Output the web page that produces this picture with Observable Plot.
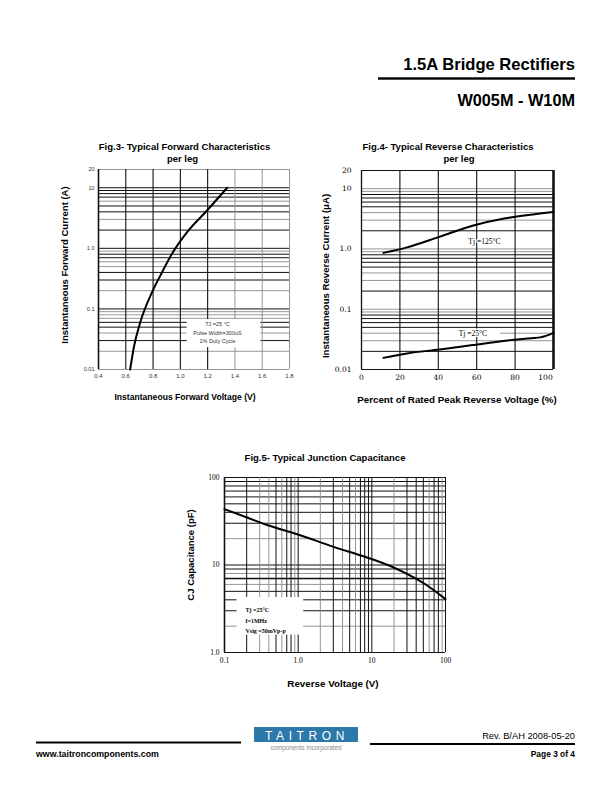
<!DOCTYPE html>
<html><head><meta charset="utf-8">
<script src="https://cdn.jsdelivr.net/npm/d3@7"></script>
<script src="https://cdn.jsdelivr.net/npm/@observablehq/plot@0.6"></script>
<style>
html,body{margin:0;padding:0;background:#fff;}
#page{position:relative;width:612px;height:792px;overflow:hidden;font-family:"Liberation Sans",Arial,sans-serif;}
#page svg{position:absolute;}
</style></head><body><div id="page"></div>
<script>
// ---------- Fig.3 data: forward voltage (V) vs forward current (A)
const fig3Voltage = [0.632, 0.661, 0.705, 0.795, 0.856, 0.941, 1.051, 1.197, 1.343];
const fig3Current = [0.01, 0.0244, 0.059, 0.194, 0.365, 0.83, 1.87, 4.25, 10];
const fig3XTicks = [0.4, 0.6, 0.8, 1.0, 1.2, 1.4, 1.6, 1.8];
const fig3XLabels = ["0.4", "0.6", "0.8", "1.0", "1.2", "1.4", "1.6", "1.8"];
const fig3YTicks = [20, 10, 1, 0.1, 0.01];
const fig3YLabels = ["20", "10", "1.0", "0.1", "0.01"];
const fig3GridXDark = [0.6, 0.8, 1.0, 1.2];
const fig3GridXLight = [1.4, 1.6, 1.8];
const fig3GridYDark = [10, 9, 8, 7, 5, 4, 2, 1, 0.8, 0.7, 0.4, 0.3, 0.1, 0.06, 0.05, 0.03];
const fig3GridYLight = [20, 6, 3, 0.9, 0.6, 0.5, 0.2, 0.09, 0.08, 0.07, 0.04, 0.02, 0.01];
const fig3Notes = ["TJ =25 °C", "Pulse Width=300uS", "1% Duty Cycle"];
const fig3NoteY = [0.0553, 0.0404, 0.0288];

// ---------- Fig.4 data: percent of rated peak reverse voltage vs reverse current (uA)
const fig4Percent125 = [11.4, 23.7, 40.8, 57.8, 75, 88, 100];
const fig4Current125 = [0.86, 1.06, 1.6, 2.42, 3.22, 3.7, 4.1];
const fig4Percent25 = [11.4, 23.7, 40.8, 57.8, 75, 88.6, 93.2, 100];
const fig4Current25 = [0.0156, 0.0185, 0.0215, 0.0254, 0.030, 0.033, 0.0341, 0.0405];
const fig4XTicks = [0, 20, 40, 60, 80];
const fig4XLabels = ["0", "20", "40", "60", "80"];
const fig4XLastTick = [100];
const fig4XLastLabel = ["100"];
const fig4YTicks = [20, 10, 1, 0.1, 0.01];
const fig4YLabels = ["20", "10", "1.0", "0.1", "0.01"];
const fig4GridX = [20, 40, 60, 80];
const fig4GridYDark = [20, 8, 7, 6, 5, 2, 0.8, 0.7, 0.6, 0.5, 0.2, 0.08, 0.07, 0.06, 0.05, 0.02, 0.01];
const fig4GridYLight = [10, 9, 4, 3, 1, 0.9, 0.4, 0.3, 0.1, 0.09, 0.04, 0.03];
const fig4Labels = ["Tj =125°C", "Tj =25°C"];
const fig4LabelX = [64, 58];
const fig4LabelY = [1.34, 0.0398];

// ---------- Fig.5 data: reverse voltage (V) vs junction capacitance (pF)
const fig5Voltage = [0.1, 0.203, 0.38, 0.97, 3.04, 8.6, 19.8, 37, 62.4, 100];
const fig5Capacitance = [43.5, 34.9, 28.6, 22.5, 16.1, 12.2, 9.36, 7.2, 5.5, 4.07];
const fig5XTicks = [0.1, 1, 10, 100];
const fig5XLabels = ["0.1", "1.0", "10", "100"];
const fig5YTicks = [100, 10, 1];
const fig5YLabels = ["100", "10", "1.0"];
const fig5GridXDark = [0.2, 0.5, 0.7, 0.8, 1, 3, 5, 7, 8, 9, 10, 30, 40, 50, 70, 80, 100];
const fig5GridXLight = [0.3, 0.4, 0.6, 0.9, 2, 4, 6, 20, 60, 90];
const fig5GridYDark = [100, 90, 80, 70, 60, 50, 40, 30, 10, 9, 7, 5, 4, 3, 1];
const fig5GridYLight = [20, 8, 6, 2];
const fig5Notes = ["Tj =25°C", "f=1MHz", "Vsig =50mVp-p"];
const fig5NoteY = [3.08, 2.30, 1.77];

const DARK = "#111", LIGHT = "#8a8a8a";
const page = document.getElementById("page");
function place(svg, left, top) {
  svg.style.left = left + "px"; svg.style.top = top + "px";
  svg.style.background = "transparent"; svg.style.overflow = "visible";
  page.appendChild(svg);
}
// tick labels drawn as text marks positioned by the scales
function xLabels(ticks, labels, o) {
  return Plot.text(ticks, {x: d => d, text: (d, i) => labels[i], frameAnchor: "bottom", lineAnchor: "top", dy: o.pad, dx: o.dx || 0, fontSize: o.size, fill: o.fill, fontFamily: o.family});
}
function yLabels(ticks, labels, o) {
  return Plot.text(ticks, {y: d => d, text: (d, i) => labels[i], frameAnchor: "left", textAnchor: "end", dx: -o.pad, fontSize: o.size, fill: o.fill, fontFamily: o.family});
}

// ---------- Fig.3
const f3t = {size: 6, fill: "#333", family: "Liberation Sans"};
const fig3 = Plot.plot({
  width: 240, height: 231, marginLeft: 38, marginRight: 11, marginTop: 9, marginBottom: 22,
  x: {type: "linear", domain: [0.4, 1.8], axis: null},
  y: {type: "log", domain: [0.01, 20], axis: null},
  marks: [
    Plot.ruleY(fig3GridYLight, {stroke: LIGHT, strokeWidth: 0.9}),
    Plot.ruleY(fig3GridYDark, {stroke: DARK, strokeWidth: 1}),
    Plot.ruleX(fig3GridXLight, {stroke: LIGHT, strokeWidth: 0.9}),
    Plot.ruleX(fig3GridXDark, {stroke: DARK, strokeWidth: 1.1}),
    Plot.ruleX([0.4], {stroke: DARK, strokeWidth: 1.6}),
    Plot.rect([0], {x1: 1.05, x2: 1.59, y1: 0.023, y2: 0.067, fill: "white"}),
    Plot.text(fig3Notes, {x: 1.272, y: fig3NoteY, text: d => d, fontSize: 5.5, fill: "#333", fontFamily: "Liberation Sans"}),
    Plot.line(fig3Voltage, {x: fig3Voltage, y: fig3Current, curve: "monotone-x", stroke: "#000", strokeWidth: 2}),
    xLabels(fig3XTicks, fig3XLabels, {...f3t, pad: 4}),
    yLabels(fig3YTicks, fig3YLabels, {...f3t, size: 5.5, pad: 4})
  ]
});
place(fig3, 60, 160);

// ---------- Fig.4
const f4t = {size: 7.5, fill: "#000", family: "DejaVu Serif"};
const fig4 = Plot.plot({
  width: 235, height: 230, marginLeft: 31, marginRight: 12, marginTop: 10, marginBottom: 21,
  x: {type: "linear", domain: [0, 100], axis: null},
  y: {type: "log", domain: [0.01, 20], axis: null},
  marks: [
    Plot.ruleY(fig4GridYLight, {stroke: LIGHT, strokeWidth: 0.9}),
    Plot.ruleY(fig4GridYDark, {stroke: DARK, strokeWidth: 1}),
    Plot.ruleX(fig4GridX, {stroke: DARK, strokeWidth: 1.1}),
    Plot.ruleX([0], {stroke: DARK, strokeWidth: 1.3}),
    Plot.ruleX([100], {stroke: DARK, strokeWidth: 2.6}),
    Plot.rect([0], {x1: 41, x2: 72.5, y1: 0.034, y2: 0.047, fill: "white"}),
    Plot.line(fig4Percent125, {x: fig4Percent125, y: fig4Current125, curve: "monotone-x", stroke: "#000", strokeWidth: 2}),
    Plot.line(fig4Percent25, {x: fig4Percent25, y: fig4Current25, curve: "monotone-x", stroke: "#000", strokeWidth: 2}),
    Plot.text(fig4Labels, {x: fig4LabelX, y: fig4LabelY, text: d => d, fontSize: 7.5, fill: "#000", fontFamily: "Liberation Serif", stroke: "white", strokeWidth: 2, paintOrder: "stroke"}),
    xLabels(fig4XTicks, fig4XLabels, {...f4t, pad: 5}),
    xLabels(fig4XLastTick, fig4XLastLabel, {...f4t, pad: 5, dx: -8}),
    yLabels(fig4YTicks, fig4YLabels, {...f4t, pad: 10})
  ]
});
place(fig4, 330, 160);

// ---------- Fig.5
const f5t = {size: 7.5, fill: "#000", family: "Liberation Serif"};
const fig5 = Plot.plot({
  width: 265, height: 205, marginLeft: 34, marginRight: 10, marginTop: 12, marginBottom: 18,
  x: {type: "log", domain: [0.1, 100], axis: null},
  y: {type: "log", domain: [1, 100], axis: null},
  marks: [
    Plot.ruleY(fig5GridYLight, {stroke: LIGHT, strokeWidth: 0.9}),
    Plot.ruleY(fig5GridYDark, {stroke: DARK, strokeWidth: 1}),
    Plot.ruleX(fig5GridXLight, {stroke: LIGHT, strokeWidth: 0.9}),
    Plot.ruleX(fig5GridXDark, {stroke: DARK, strokeWidth: 1}),
    Plot.ruleX([0.1], {stroke: DARK, strokeWidth: 1.6}),
    Plot.ruleY([7], {stroke: DARK, strokeWidth: 1.6}),
    Plot.rect([0], {x1: 0.148, x2: 1.19, y1: 1.58, y2: 4.25, fill: "white"}),
    Plot.text(fig5Notes, {x: 0.193, y: fig5NoteY, text: d => d, fontSize: 6, fill: "#000", fontFamily: "Liberation Serif", fontWeight: "bold", textAnchor: "start"}),
    Plot.line(fig5Voltage, {x: fig5Voltage, y: fig5Capacitance, curve: "monotone-x", stroke: "#000", strokeWidth: 2}),
    xLabels(fig5XTicks, fig5XLabels, {...f5t, pad: 5}),
    yLabels(fig5YTicks, fig5YLabels, {...f5t, pad: 5})
  ]
});
place(fig5, 190, 465);

// ---------- Page text (header, titles, axis titles, footer)
const svg = d3.create("svg").attr("width", 612).attr("height", 792)
  .style("left", "0px").style("top", "0px").style("pointer-events", "none")
  .attr("font-family", "Liberation Sans, Arial, sans-serif");
function txt(x, y, s, o = {}) {
  const t = svg.append("text").attr("x", x).attr("y", y).text(s)
    .attr("font-size", o.size || 10).attr("font-weight", o.weight || "bold")
    .attr("text-anchor", o.anchor || "middle").attr("fill", o.fill || "#000");
  if (o.rotate) t.attr("x", 0).attr("y", 0).attr("transform", `translate(${x},${y}) rotate(-90)`);
  if (o.ls) t.attr("letter-spacing", o.ls);
  return t;
}
// header
txt(575, 69.5, "1.5A Bridge Rectifiers", {size: 16.6, anchor: "end"});
svg.append("rect").attr("x", 378).attr("y", 77.3).attr("width", 197).attr("height", 2.4).attr("fill", "#000");
txt(575, 106, "W005M - W10M", {size: 16.3, anchor: "end"});
// Fig.3
txt(184.5, 150, "Fig.3- Typical Forward Characteristics", {size: 9.5});
txt(182.5, 161.5, "per leg", {size: 9.5});
txt(67.5, 265, "Instantaneous Forward Current (A)", {size: 9.5, rotate: true});
txt(185, 400, "Instantaneous Forward Voltage (V)", {size: 8.6});
// Fig.4
txt(448, 149.5, "Fig.4- Typical Reverse Characteristics", {size: 9.5});
txt(459, 161.5, "per leg", {size: 9.5});
txt(329, 276, "Instantaneous Reverse Current (\u03bcA)", {size: 9.6, rotate: true});
txt(457, 403, "Percent of Rated Peak Reverse Voltage (%)", {size: 9.8});
// Fig.5
txt(325, 460.5, "Fig.5- Typical Junction Capacitance", {size: 9.5});
txt(193.5, 555, "CJ Capacitance (pF)", {size: 9.5, rotate: true});
txt(333, 687, "Reverse Voltage (V)", {size: 9.8});
// footer
svg.append("rect").attr("x", 36).attr("y", 741.5).attr("width", 205).attr("height", 2).attr("fill", "#000");
svg.append("rect").attr("x", 370).attr("y", 743).attr("width", 205).attr("height", 2).attr("fill", "#000");
svg.append("rect").attr("x", 254).attr("y", 727).attr("width", 104).attr("height", 15).attr("fill", "#2b78a9");
txt(307, 739.5, "TAITRON", {size: 12, weight: "normal", fill: "#fff", ls: 4.6});
txt(306, 750, "components incorporated", {size: 6.3, weight: "normal", fill: "#8a8a8a"});
txt(575, 739, "Rev. B/AH 2008-05-20", {size: 9.3, weight: "normal", anchor: "end"});
txt(36, 757, "www.taitroncomponents.com", {size: 8.8, anchor: "start"});
txt(575, 757, "Page 3 of 4", {size: 8.4, anchor: "end"});
page.appendChild(svg.node());
</script>
</body></html>
